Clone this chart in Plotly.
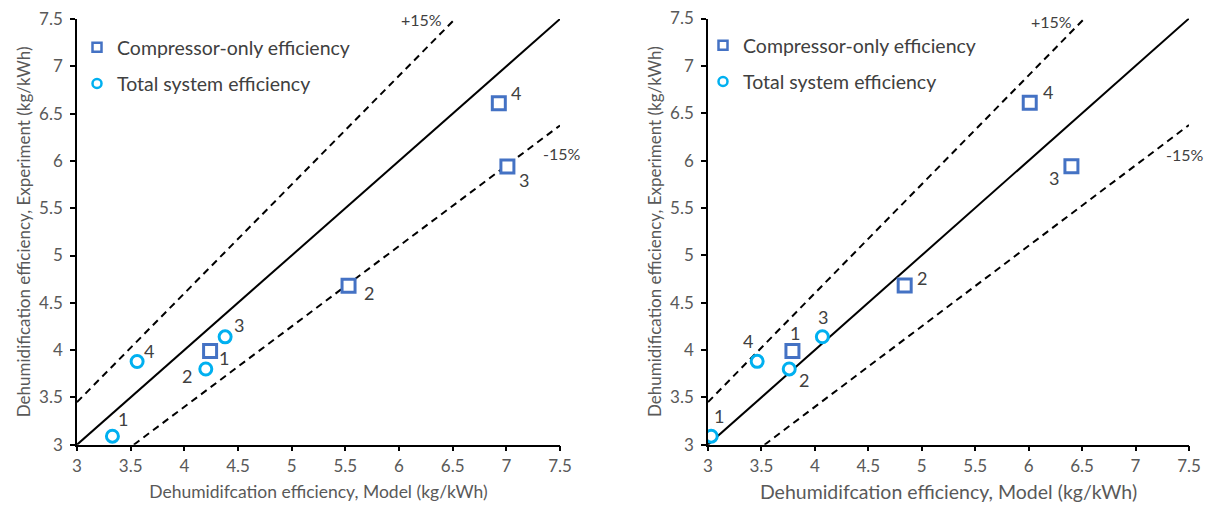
import plotly.graph_objects as go

# ---------------- data ----------------
point_labels = ["1", "2", "3", "4"]
exp_compressor = [3.99, 4.68, 5.94, 6.61]
exp_total = [3.09, 3.80, 4.14, 3.88]
model_a_compressor = [4.24, 5.53, 7.01, 6.93]
model_a_total = [3.33, 4.20, 4.38, 3.56]
model_b_compressor = [3.79, 4.84, 6.40, 6.01]
model_b_total = [3.03, 3.76, 4.07, 3.46]
tick_vals = [3, 3.5, 4, 4.5, 5, 5.5, 6, 6.5, 7, 7.5]
tick_text = ["3", "3.5", "4", "4.5", "5", "5.5", "6", "6.5", "7", "7.5"]
band = 0.15
axis_lo, axis_hi = 3.0, 7.5
series_names = ["Compressor-only efficiency", "Total system efficiency"]
x_title = "Dehumidifcation efficiency, Model (kg/kWh)"
y_title = "Dehumidification efficiency, Experiment (kg/kWh)"

# ---------------- style ----------------
W, H = 1206, 510
FONT = "Lato"
SQ_COLOR = "#4472C4"
CI_COLOR = "#00B0F0"
TICK_COLOR = "#595959"
TEXT_COLOR = "#404040"

# label offsets in px (dx, dy; dy positive = down)
off_a_sq = [(14, 7), (20, 7), (17, 13), (17, -10)]
off_a_ci = [(11, -17), (-19, 7), (14, -12), (12, -10)]
off_b_sq = [(3, -18), (17, -8), (-17, 12), (18, -11)]
off_b_ci = [(8, -20), (15, 11), (1, -20), (-9, -20)]

panels = [
    dict(xa="x", ya="y", xdom=[77 / W, 560 / W], ydom=[1 - 444.7 / H, 1 - 19 / H],
         mc=model_a_compressor, mt=model_a_total, osq=off_a_sq, oci=off_a_ci,
         legend="legend", title_size=17.5,
         plus_lab=(6.21, 7.49, 0), minus_lab=(7.5, 6.08, 2)),
    dict(xa="x2", ya="y2", xdom=[708 / W, 1189 / W], ydom=[1 - 444.7 / H, 1 - 18.5 / H],
         mc=model_b_compressor, mt=model_b_total, osq=off_b_sq, oci=off_b_ci,
         legend="legend2", title_size=19.5,
         plus_lab=(6.21, 7.47, 0), minus_lab=(7.46, 6.06, 0)),
]

fig = go.Figure()
annotations = []

for i, p in enumerate(panels):
    xa, ya = p["xa"], p["ya"]
    # reference lines
    fig.add_trace(go.Scatter(x=[axis_lo, axis_hi], y=[axis_lo, axis_hi], mode="lines",
                             line=dict(color="black", width=2), xaxis=xa, yaxis=ya,
                             showlegend=False, hoverinfo="skip"))
    fig.add_trace(go.Scatter(x=[axis_lo, axis_hi / (1 + band)],
                             y=[axis_lo * (1 + band), axis_hi], mode="lines",
                             line=dict(color="black", width=2, dash="7px,5px"),
                             xaxis=xa, yaxis=ya, showlegend=False, hoverinfo="skip"))
    fig.add_trace(go.Scatter(x=[axis_lo / (1 - band), axis_hi],
                             y=[axis_lo, axis_hi * (1 - band)], mode="lines",
                             line=dict(color="black", width=2, dash="7px,5px"),
                             xaxis=xa, yaxis=ya, showlegend=False, hoverinfo="skip"))
    # data
    fig.add_trace(go.Scatter(x=p["mc"], y=exp_compressor, mode="markers",
                             marker=dict(symbol="square", size=13, color="white",
                                         line=dict(color=SQ_COLOR, width=3)),
                             xaxis=xa, yaxis=ya, showlegend=False, name=series_names[0]))
    fig.add_trace(go.Scatter(x=p["mt"], y=exp_total, mode="markers",
                             marker=dict(symbol="circle", size=12, color="white",
                                         line=dict(color=CI_COLOR, width=3)),
                             xaxis=xa, yaxis=ya, showlegend=False, name=series_names[1]))
    # legend entries
    fig.add_trace(go.Scatter(x=[None], y=[None], mode="markers", name=series_names[0],
                             marker=dict(symbol="square", size=9, color="white",
                                         line=dict(color=SQ_COLOR, width=2.5)),
                             xaxis=xa, yaxis=ya, legend=p["legend"],
                             legendgroup=f"a{i}", showlegend=True))
    fig.add_trace(go.Scatter(x=[None], y=[None], mode="markers", name=series_names[1],
                             marker=dict(symbol="circle", size=9, color="white",
                                         line=dict(color=CI_COLOR, width=2.5)),
                             xaxis=xa, yaxis=ya, legend=p["legend"],
                             legendgroup=f"b{i}", showlegend=True))
    # point labels
    for xs, ys, offs in ((p["mc"], exp_compressor, p["osq"]), (p["mt"], exp_total, p["oci"])):
        for xv, yv, lab, (dx, dy) in zip(xs, ys, point_labels, offs):
            annotations.append(dict(x=xv, y=yv, xref=xa, yref=ya, text=lab,
                                    showarrow=False, xshift=dx, yshift=-dy,
                                    font=dict(family=FONT, size=18, color=TEXT_COLOR)))
    annotations.append(dict(x=p["plus_lab"][0], y=p["plus_lab"][1], xref=xa, yref=ya,
                            text="+15%", showarrow=False, xshift=p["plus_lab"][2],
                            font=dict(family=FONT, size=16, color=TEXT_COLOR)))
    annotations.append(dict(x=p["minus_lab"][0], y=p["minus_lab"][1], xref=xa, yref=ya,
                            text="-15%", showarrow=False, xshift=p["minus_lab"][2],
                            font=dict(family=FONT, size=16, color=TEXT_COLOR)))

axis_common = dict(range=[axis_lo, axis_hi], tickmode="array", tickvals=tick_vals,
                   ticktext=tick_text, showline=True, linecolor="black", linewidth=1.5,
                   ticks="outside", ticklen=5, tickwidth=1.5, tickcolor="black",
                   showgrid=False, zeroline=False, automargin=False,
                   tickfont=dict(family=FONT, size=17, color=TICK_COLOR))

layout = dict(
    width=W, height=H, margin=dict(l=0, r=0, t=0, b=0),
    plot_bgcolor="white", paper_bgcolor="white",
    font=dict(family=FONT, color=TEXT_COLOR),
    annotations=annotations,
)
for i, p in enumerate(panels):
    sfx = "" if i == 0 else "2"
    layout["xaxis" + sfx] = dict(axis_common, domain=p["xdom"], anchor="y" + sfx,
                                 title=dict(text=x_title, standoff=11,
                                            font=dict(family=FONT, size=p["title_size"],
                                                      color=TICK_COLOR)))
    layout["yaxis" + sfx] = dict(axis_common, domain=p["ydom"], anchor="x" + sfx,
                                 ticklabelstandoff=4,
                                 title=dict(text=y_title, standoff=4,
                                            font=dict(family=FONT, size=17,
                                                      color=TICK_COLOR)))

legend_common = dict(bgcolor="rgba(0,0,0,0)", tracegroupgap=8, itemwidth=30,
                     font=dict(family=FONT, size=19.5, color=TEXT_COLOR),
                     xanchor="left", yanchor="top")
layout["legend"] = dict(legend_common, x=77 / W, y=1 - 28 / H)
layout["legend2"] = dict(legend_common, x=703 / W, y=1 - 26 / H)

fig.update_layout(**layout)

fig.write_html("out.html", config={"displayModeBar": False},
               post_script="document.body.style.margin='0';")
